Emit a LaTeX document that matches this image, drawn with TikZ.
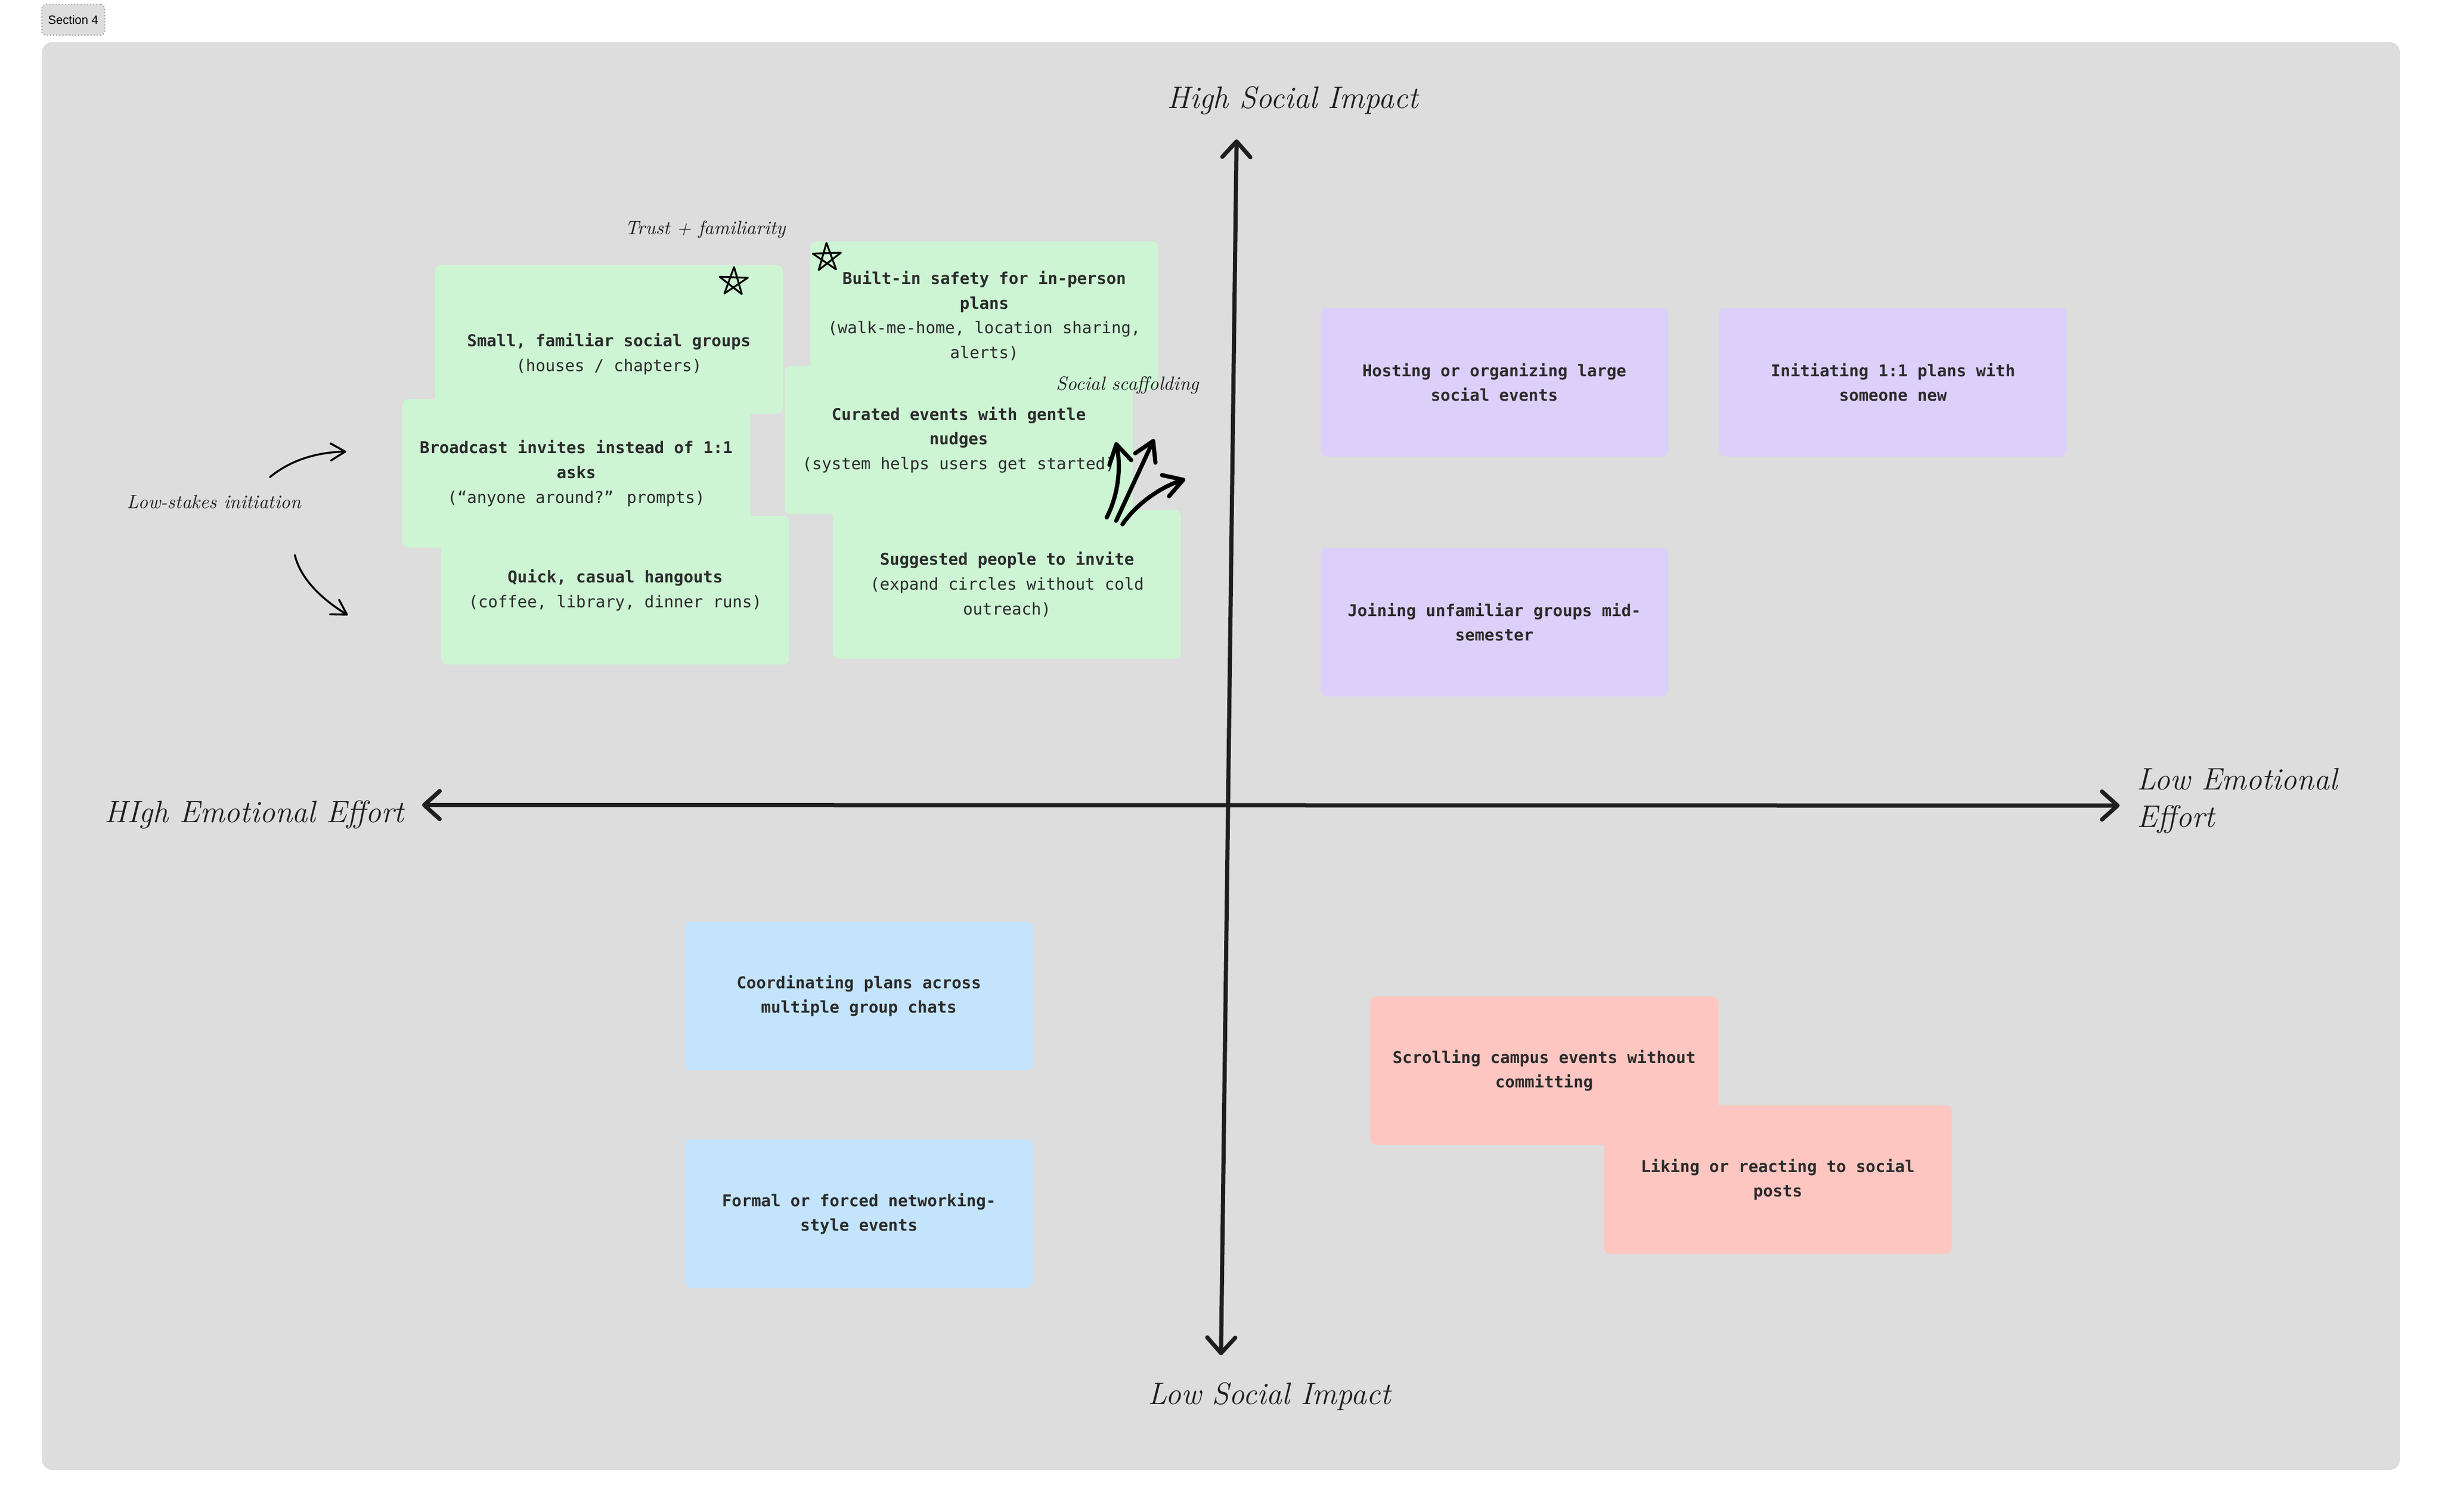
\documentclass[tikz,border=0pt]{standalone}
\usepackage{fontspec}
\newfontfamily\notefont{DejaVu Sans Mono}
\newfontfamily\tagfont{Liberation Sans}
\usetikzlibrary{positioning, arrows.meta}

\definecolor{panelgray}{HTML}{DDDDDD}
\definecolor{notegreen}{HTML}{CDF5D4}
\definecolor{notepurple}{HTML}{DCD0FA}
\definecolor{noteblue}{HTML}{C3E4FC}
\definecolor{notered}{HTML}{FEC6C1}
\definecolor{notetext}{HTML}{2B2B2B}
\definecolor{ink}{HTML}{1E1E1E}
\definecolor{tagborder}{HTML}{A7B5AB}

\tikzset{
  note/.style={rounded corners=1.1mm, minimum width=67mm, minimum height=28.6mm,
    inner sep=0pt, align=center, text=notetext,
    font=\notefont\fontsize{8.9pt}{13.6pt}\selectfont},
  green note/.style={note, fill=notegreen},
  purple note/.style={note, fill=notepurple},
  blue note/.style={note, fill=noteblue},
  red note/.style={note, fill=notered},
  axis label/.style={inner sep=0pt, text=ink,
    font=\itshape\fontsize{17pt}{20.4pt}\selectfont},
  side label/.style={inner sep=0pt, text=ink,
    font=\itshape\fontsize{10.5pt}{12pt}\selectfont},
  section tag/.style={draw=tagborder, densely dotted, line width=0.25mm,
    fill=panelgray, rounded corners=0.8mm, minimum width=12.1mm,
    minimum height=5.9mm, inner sep=0pt, text=black,
    font=\tagfont\fontsize{6.6pt}{8pt}\selectfont},
  quadrant axis/.style={draw=ink, line width=0.8mm, line cap=round,
    {Straight Barb[length=3mm, width=5.4mm, round]}-{Straight Barb[length=3mm, width=5.4mm, round]}},
  doodle/.style={draw=black, line width=0.38mm, line cap=round,
    -{Straight Barb[length=2.8mm, width=3.3mm, round]}},
  bold doodle/.style={draw=black, line width=0.8mm, line cap=round,
    -{Straight Barb[length=3.6mm, width=4.3mm, round]}},
  star mark/.style={draw=black, line width=0.35mm, line join=round},
}

\begin{document}
\begin{tikzpicture}[x=0.3mm, y=-0.3mm]
\useasboundingbox (0,0) rectangle (1568,970.67);
\fill[panelgray, rounded corners=2mm] (27,27) rectangle (1541,944);
\node[section tag] (section) at (47,12.7) {Section 4};

% high effort, high impact
\node[green note] (smallgroups) at (391,218)
    {\strut\\\textbf{Small, familiar social groups}\\(houses / chapters)};
\node[green note] (safety) at (632,202.8)
    {\textbf{Built-in safety for in-person}\\\textbf{plans}\\(walk-me-home, location sharing,\\alerts)};
\node[green note] (broadcast) at (370,304)
    {\textbf{Broadcast invites instead of 1:1}\\\textbf{asks}\\(“anyone around?” prompts)};
\node[green note] (curated) at (615.6,282.5)
    {\textbf{Curated events with gentle}\\\textbf{nudges}\\(system helps users get started)};
\node[green note] (hangouts) at (395,379)
    {\textbf{Quick, casual hangouts}\\(coffee, library, dinner runs)};
\node[green note] (suggested) at (646.6,375.3)
    {\textbf{Suggested people to invite}\\(expand circles without cold\\outreach)};

% low effort, high impact
\node[purple note] (hosting) at (959.5,245.5)
    {\textbf{Hosting or organizing large}\\\textbf{social events}};
\node[purple note] (initiating) at (1215.5,245.5)
    {\textbf{Initiating 1:1 plans with}\\\textbf{someone new}};
\node[purple note] (joining) at (959.5,399.5)
    {\textbf{Joining unfamiliar groups mid-}\\\textbf{semester}};

% high effort, low impact
\node[blue note] (coordinating) at (551.5,639.5)
    {\textbf{Coordinating plans across}\\\textbf{multiple group chats}};
\node[blue note] (networking) at (551.5,779.5)
    {\textbf{Formal or forced networking-}\\\textbf{style events}};

% low effort, low impact
\node[red note] (scrolling) at (991.5,687.5)
    {\textbf{Scrolling campus events without}\\\textbf{committing}};
\node[red note] (liking) at (1141.5,757.5)
    {\textbf{Liking or reacting to social}\\\textbf{posts}};

% axes
\coordinate (socialhigh) at (794,89.5);
\coordinate (sociallow) at (784,870.3);
\coordinate (efforthigh) at (271,517);
\coordinate (effortlow) at (1361,517.3);
\draw[quadrant axis] (sociallow) -- (socialhigh);
\draw[quadrant axis] (efforthigh) -- (effortlow);
\node[axis label, anchor=base] (highsocial) at (830,69.5) {High Social Impact};
\node[axis label, anchor=base] (lowsocial) at (815,901.7) {Low Social Impact};
\node[axis label, anchor=base east] (higheffort) at (259.6,528.3) {HIgh Emotional Effort};
\node[axis label, align=left, right=3.3mm of effortlow, yshift=0.9mm] (loweffort)
    {Low Emotional\\Effort};

% notes in the margins
\node[side label, anchor=base] (trust) at (453,150.5) {Trust + familiarity};
\node[side label, anchor=base] (scaffolding) at (724,250.5) {Social scaffolding};
\node[side label, anchor=base] (lowstakes) at (137.5,326.5) {Low-stakes initiation};

\draw[star mark, shift={(471,181)}]
    (-88:9.5) -- (56:9.5) -- (200:9.5) -- (344:9.5) -- (128:9.5) -- cycle;
\draw[star mark, shift={(531,165.5)}]
    (-92:9.5) -- (52:9.5) -- (196:9.5) -- (340:9.5) -- (124:9.5) -- cycle;

\coordinate (lowstakesup) at (173.3,306.4);
\coordinate (broadcastin) at (222.3,290);
\coordinate (lowstakesdown) at (189.3,356.4);
\coordinate (hangoutsin) at (223.3,395);
\draw[doodle] (lowstakesup) .. controls (186,296) and (202,290.5) .. (broadcastin);
\draw[doodle] (lowstakesdown) .. controls (193,372) and (207,385) .. (hangoutsin);

\coordinate (burstone) at (710.6,332.3);
\coordinate (bursttwo) at (716.7,334.4);
\coordinate (burstthree) at (720.7,336.7);
\coordinate (burstonetip) at (716.5,284);
\coordinate (bursttwotip) at (741,282);
\coordinate (burstthreetip) at (761,307.7);
\draw[bold doodle] (burstone) .. controls (718,318) and (720,300) .. (burstonetip);
\draw[bold doodle] (bursttwo) -- (bursttwotip);
\draw[bold doodle] (burstthree) .. controls (728,326) and (742,314) .. (burstthreetip);
\end{tikzpicture}
\end{document}
